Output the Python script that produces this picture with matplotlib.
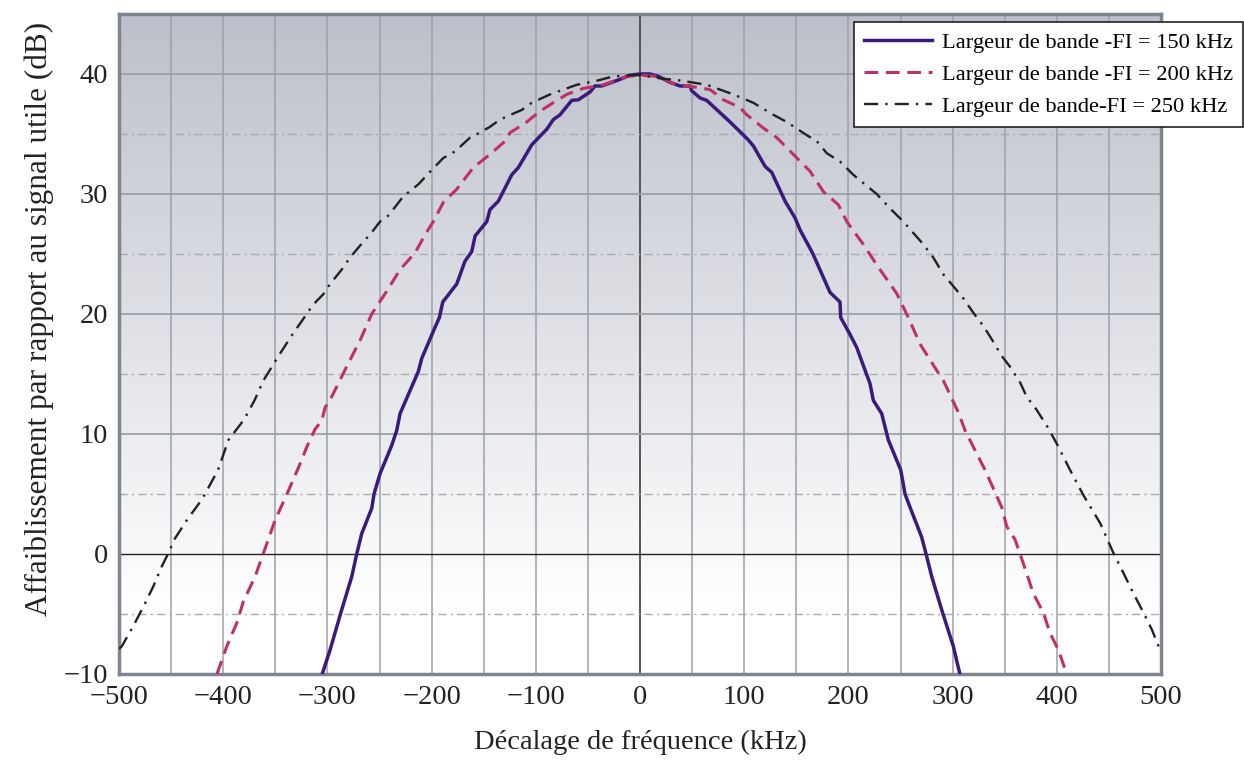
import numpy as np
import matplotlib.pyplot as plt
from matplotlib.colors import LinearSegmentedColormap

plt.rcParams['font.family'] = ['Liberation Serif', 'DejaVu Serif']

# 150 kHz IF bandwidth
x150 = [-305, -297.5, -286.3, -276.7, -271.9, -267.1, -257.5, -255.3, -249.5, -238.3,
        -233.5, -230.3, -212.8, -209.5, -196.7, -192.6, -189.3, -175.9, -168, -161.5,
        -158.3, -147.1, -144, -136, -123.1, -116.8, -103.9, -89.5, -83.2, -76.8,
        -65.5, -59.2, -48, -43.2, -36.8, -20.8, -9.6, 0, 9.6, 17.6,
        28.8, 38.4, 48, 49.6, 57.6, 64, 86.4, 104, 108.8, 120,
        126.4, 139.2, 148.8, 153.6, 164.8, 168, 182.3, 191.9, 192.6, 201.5,
        208, 216, 220.7, 223.9, 231.9, 238.3, 250.2, 254.3, 259.1, 270.3,
        275.1, 280, 289.5, 300.7, 303.9, 307]
y150 = [-10, -8.0, -4.65, -1.9, 0, 1.7, 3.8, 5.0, 6.7, 9.05,
        10.3, 11.7, 15.2, 16.3, 18.9, 19.7, 21.0, 22.5, 24.4, 25.2,
        26.5, 27.7, 28.7, 29.4, 31.6, 32.2, 34.1, 35.4, 36.2, 36.6,
        37.8, 37.85, 38.5, 39.0, 39.0, 39.5, 39.9, 40.0, 40.0, 39.8,
        39.3, 39.0, 39.0, 38.6, 38.0, 37.8, 36.0, 34.5, 34.0, 32.3,
        31.8, 29.4, 28.0, 27.0, 25.2, 24.6, 21.8, 21.0, 19.7, 18.3,
        17.2, 15.3, 14.2, 12.8, 11.7, 9.5, 7.0, 5.0, 3.9, 1.4,
        -0.2, -1.9, -4.65, -7.7, -8.9, -10]

# 200 kHz IF bandwidth
x200 = [-406, -396.6, -387, -380.7, -369.5, -361.5, -350.3, -338.8, -326.3, -319.9,
        -311.9, -305.5, -302.3, -295.9, -280.5, -268.7, -257.5, -243.1, -230.3, -215.9,
        -206.3, -198.4, -188.8, -175.9, -160, -144, -129.6, -124.8, -108.7, -96,
        -81.6, -70.3, -54.4, -35.2, -12.8, 0, 17.6, 32, 67.2, 80,
        96, 102.4, 118.3, 131.2, 147.1, 163.1, 175.9, 190.3, 198.4, 214.3,
        227.1, 246.4, 257.5, 268.7, 284.7, 291.1, 305.5, 311.9, 318.3, 331.1,
        347.1, 351.9, 359.9, 367.9, 377.5, 387.1, 393.5, 401.5, 407.9, 410]
y200 = [-10, -7.7, -5.75, -3.96, -1.9, 0.05, 2.8, 5.0, 7.5, 8.9,
        10.4, 11.1, 12.2, 13.1, 15.8, 17.8, 20.0, 21.9, 23.7, 25.1,
        26.6, 27.7, 29.3, 30.4, 32.2, 33.3, 34.4, 35.1, 36.0, 36.9,
        37.7, 38.3, 38.8, 39.1, 39.8, 39.9, 39.8, 39.2, 38.7, 37.85,
        37.2, 36.6, 35.5, 34.7, 33.3, 31.9, 30.2, 29.1, 27.7, 25.8,
        24.1, 21.7, 19.7, 17.5, 15.3, 14.45, 11.8, 10.3, 9.2, 7.0,
        3.9, 2.3, 1.2, -0.8, -3.3, -4.9, -6.6, -8.0, -9.6, -10]

# 250 kHz IF bandwidth
x250 = [-500, -497.4, -486.3, -476.7, -467.1, -459.1, -452.7, -446.3, -435.1, -420,
        -405, -395, -380, -370, -361.5, -345.5, -334.3, -326.3, -313.5, -303.9,
        -297.5, -286.3, -278.3, -268.7, -257.5, -249.5, -241.5, -227.2, -212.8, -199.9,
        -188.8, -177.5, -163.1, -151.9, -144, -134.4, -121.6, -113.5, -103.9, -86.4,
        -73.6, -60.7, -43.2, -25.6, -6.4, 0, 22.4, 35.2, 64, 89.5,
        108.7, 127.9, 140.8, 160, 169.6, 179.2, 191.9, 204.7, 227.1, 239.9,
        252.7, 271.9, 281.5, 291.1, 309.5, 319.9, 329.5, 337.5, 347.1, 355.1,
        364.7, 371.1, 380.7, 390.3, 399.9, 412.7, 425.5, 441.7, 454.4, 464,
        473.6, 483.2, 491.2, 500]
y250 = [-7.9, -7.7, -6.0, -4.4, -2.7, -1.05, 0.06, 1.3, 2.8, 4.6,
        7.0, 9.5, 11.2, 12.8, 14.45, 16.7, 18.2, 19.2, 20.8, 21.65,
        22.5, 23.7, 24.7, 25.7, 26.8, 27.7, 28.2, 29.8, 30.8, 32.0,
        33.0, 33.55, 34.7, 35.2, 35.6, 36.2, 36.7, 37.0, 37.6, 38.3,
        38.7, 39.1, 39.4, 39.8, 39.9, 39.9, 39.6, 39.5, 39.1, 38.3,
        37.6, 36.6, 36.0, 34.9, 34.4, 33.4, 32.7, 31.6, 30.0, 28.8,
        27.7, 25.8, 24.7, 23.3, 21.4, 20.1, 19.0, 17.9, 16.5, 15.6,
        14.3, 13.1, 12.0, 10.7, 9.2, 7.0, 4.9, 2.55, 0.06, -1.6,
        -3.3, -4.9, -6.3, -8.2]

labels = ['Largeur de bande -FI = 150 kHz',
          'Largeur de bande -FI = 200 kHz',
          'Largeur de bande-FI = 250 kHz']

fig = plt.figure(figsize=(12.44, 7.6), dpi=100)
ax = fig.add_axes([0.0957, 0.1132, 0.8376, 0.8684])
ax.set_xlim(-500, 500)
ax.set_ylim(-10, 45)

# background: grey at the top fading to white at about -5 dB
bg = LinearSegmentedColormap.from_list('bg', ['#ffffff', '#bcc0ca'])
grad = np.clip((np.linspace(-10, 45, 256) + 5) / 50, 0, 1).reshape(-1, 1)
ax.imshow(grad, extent=(-500, 500, -10, 45), origin='lower', aspect='auto',
          cmap=bg, vmin=0, vmax=1, zorder=0)

for xv in range(-450, 500, 50):
    if xv == 0:
        ax.axvline(0, color='#4a4a4a', lw=1.3, zorder=1)
    else:
        ax.axvline(xv, color='#9ca0a8', lw=1.1, zorder=1)
for yv in [10, 20, 30, 40]:
    ax.axhline(yv, color='#9ca0a8', lw=1.3, zorder=1)
for yv in [-5, 5, 15, 25, 35]:
    ax.axhline(yv, color='#a8abb2', lw=1.0, ls=(0, (6, 3, 1.5, 3)), zorder=1)
ax.axhline(0, color='#222222', lw=1.0, zorder=1)

ax.plot(x150, y150, color='#3a1a7a', lw=2.5, label=labels[0], zorder=3)
ax.plot(x200, y200, color='#c03068', lw=2.2, ls=(0, (4.5, 2.5)), label=labels[1], zorder=3)
ax.plot(x250, y250, color='#222222', lw=1.7, ls=(0, (6, 3, 1, 3)), label=labels[2], zorder=3)

ax.set_xticks(range(-500, 501, 100))
ax.set_yticks([-10, 0, 10, 20, 30, 40])
ax.tick_params(length=0, labelsize=20.5, pad=8, colors='#222222')
for sp in ax.spines.values():
    sp.set_color('#7d8590')
    sp.set_linewidth(2.5)

ax.set_xlabel('Décalage de fréquence (kHz)', fontsize=20.5, color='#222222')
ax.xaxis.set_label_coords(0.5, -0.085)
ax.set_ylabel('Affaiblissement par rapport au signal utile (dB)', fontsize=22.5,
              color='#222222')
ax.yaxis.set_label_coords(-0.062, 0.538)

leg = fig.legend(loc='upper right', bbox_to_anchor=(1243 / 1244, 1 - 22 / 760),
                 borderaxespad=0, fontsize=16.2, frameon=True, fancybox=False,
                 edgecolor='#222222', framealpha=1, handlelength=3.0,
                 borderpad=0.45, labelspacing=0.5, handletextpad=0.45)
leg.get_frame().set_linewidth(1.2)

fig.savefig('out.png', dpi=100)
